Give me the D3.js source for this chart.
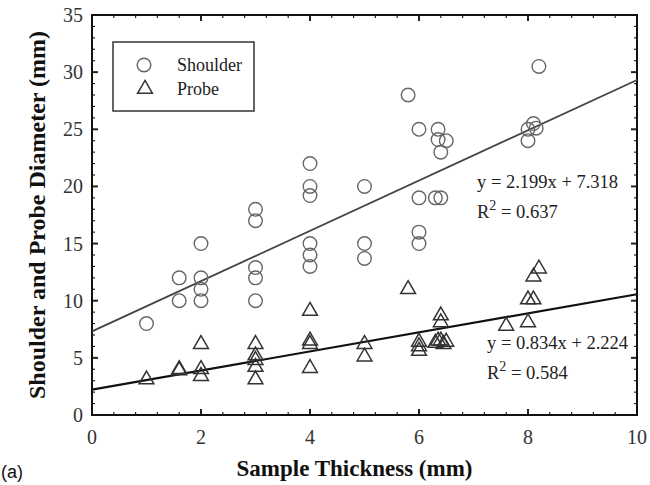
<!DOCTYPE html>
<html>
<head>
<meta charset="utf-8">
<script src="https://cdnjs.cloudflare.com/ajax/libs/d3/7.8.5/d3.min.js"></script>
<style>
  body { margin: 0; background: #fff; }
  svg text { font-family: "Liberation Serif", "Times New Roman", serif; }
</style>
</head>
<body>
<div id="chart"></div>
<script>
// shoulder diameters (thickness mm, diameter mm)
const shoulderX = [1, 1.6, 1.6, 2, 2, 2, 2, 3, 3, 3, 3, 3, 4, 4, 4, 4, 4, 4, 5, 5, 5, 5.8, 6, 6, 6, 6,
  6.35, 6.35, 6.5, 6.4, 6.3, 6.4, 8, 8, 8.1, 8.15, 8.2];
const shoulderY = [8, 12, 10, 15, 12, 11, 10, 18, 17, 12.9, 12, 10, 22, 20, 19.2, 15, 14, 13, 20, 15, 13.7, 28, 25, 19, 16, 15,
  25, 24.1, 24, 23, 19, 19, 25, 24, 25.5, 25.1, 30.5];
// probe diameters
const probeX = [1, 1.6, 1.6, 2, 2, 2, 3, 3, 3, 3, 3, 4, 4, 4, 4, 5, 5, 5.8, 6, 6, 6, 6.3, 6.35, 6.4, 6.4, 6.4, 6.5, 6.45,
  7.6, 8, 8, 8.1, 8.1, 8.2];
const probeY = [3.1, 4.0, 3.9, 6.2, 4.0, 3.4, 6.2, 5.2, 4.8, 4.2, 3.1, 9.1, 6.5, 6.2, 4.1, 6.2, 5.1, 11.0, 6.4, 6.0, 5.6, 6.3, 6.5,
  8.7, 8.1, 6.5, 6.4, 6.2, 7.8, 8.1, 10.1, 10.1, 12.1, 12.8];
// linear fits printed on the chart
const shoulderFit = { slope: 2.199, intercept: 7.318, r2: "0.637" };
const probeFit = { slope: 0.834, intercept: 2.224, r2: "0.584" };
const xTicks = [0, 2, 4, 6, 8, 10];
const yTicks = [0, 5, 10, 15, 20, 25, 30, 35];

const width = 650, height = 485;
const margin = { left: 92, right: 13, top: 15, bottom: 70 };

const svg = d3.select("#chart").append("svg")
  .attr("width", width).attr("height", height);

const x = d3.scaleLinear().domain([0, 10]).range([margin.left, width - margin.right]);
const y = d3.scaleLinear().domain([0, 35]).range([height - margin.bottom, margin.top]);

const x0 = x(0), x1 = x(10), y0 = y(0), y1 = y(35);

// minor + major ticks, all pointing inward, on all four sides
const xMinor = d3.range(0, 10.001, 0.4);
const yMinor = d3.range(0, 35.001, 1);
const ticks = svg.append("g").attr("stroke", "#222");
xMinor.forEach(v => {
  const major = xTicks.includes(+v.toFixed(1));
  const len = major ? 6 : 3;
  ticks.append("line").attr("x1", x(v)).attr("x2", x(v)).attr("y1", y0).attr("y2", y0 - len)
    .attr("stroke-width", major ? 2 : 1.2);
  ticks.append("line").attr("x1", x(v)).attr("x2", x(v)).attr("y1", y1).attr("y2", y1 + len)
    .attr("stroke-width", major ? 2 : 1.2);
});
yMinor.forEach(v => {
  const major = v % 5 === 0;
  const len = major ? 6 : 3;
  ticks.append("line").attr("x1", x0).attr("x2", x0 + len).attr("y1", y(v)).attr("y2", y(v))
    .attr("stroke-width", major ? 2 : 1.2);
  ticks.append("line").attr("x1", x1).attr("x2", x1 - len).attr("y1", y(v)).attr("y2", y(v))
    .attr("stroke-width", major ? 2 : 1.2);
});

// frame
svg.append("rect").attr("x", x0).attr("y", y1).attr("width", x1 - x0).attr("height", y0 - y1)
  .attr("fill", "none").attr("stroke", "#111").attr("stroke-width", 2);

// tick labels
svg.append("g").selectAll("text").data(xTicks).join("text")
  .attr("x", d => x(d)).attr("y", y0 + 29)
  .attr("text-anchor", "middle").attr("font-size", 20).attr("fill", "#333")
  .text(d => d);
svg.append("g").selectAll("text").data(yTicks).join("text")
  .attr("x", x0 - 9).attr("y", d => y(d) + 7)
  .attr("text-anchor", "end").attr("font-size", 20).attr("fill", "#333")
  .text(d => d);

// axis titles
svg.append("text").attr("x", (x0 + x1) / 2 - 10).attr("y", y0 + 61)
  .attr("text-anchor", "middle").attr("font-size", 23).attr("font-weight", "bold")
  .attr("fill", "#111").text("Sample Thickness (mm)");
svg.append("text")
  .attr("transform", `translate(45,${(y0 + y1) / 2}) rotate(-90)`)
  .attr("text-anchor", "middle").attr("font-size", 24).attr("font-weight", "bold")
  .attr("fill", "#111").text("Shoulder and Probe Diameter (mm)");

svg.append("text").attr("x", 1).attr("y", 478)
  .style("font-family", "'Liberation Sans', Arial, sans-serif")
  .attr("font-size", 18).attr("fill", "#111").text("(a)");

// fit lines
const line = d3.line().x(d => x(d[0])).y(d => y(d[1]));
svg.append("path")
  .attr("d", line([[0, shoulderFit.intercept], [10, shoulderFit.intercept + 10 * shoulderFit.slope]]))
  .attr("fill", "none").attr("stroke", "#444").attr("stroke-width", 1.8);
svg.append("path")
  .attr("d", line([[0, probeFit.intercept], [10, probeFit.intercept + 10 * probeFit.slope]]))
  .attr("fill", "none").attr("stroke", "#111").attr("stroke-width", 2.2);

// markers
const triangle = d3.symbol().type(d3.symbolTriangle).size(95);
svg.append("g").selectAll("circle").data(shoulderX.map((v, i) => [v, shoulderY[i]])).join("circle")
  .attr("cx", d => x(d[0])).attr("cy", d => y(d[1])).attr("r", 6.8)
  .attr("fill", "none").attr("stroke", "#666").attr("stroke-width", 1.4);
svg.append("g").selectAll("path").data(probeX.map((v, i) => [v, probeY[i]])).join("path")
  .attr("d", triangle)
  .attr("transform", d => `translate(${x(d[0])},${y(d[1])})`)
  .attr("fill", "none").attr("stroke", "#333").attr("stroke-width", 1.5);

// equation labels
function equation(fit, px, py) {
  const g = svg.append("g").attr("font-size", 18.5).attr("fill", "#222");
  g.append("text").attr("x", px).attr("y", py)
    .text(`y = ${fit.slope}x + ${fit.intercept}`);
  const t = g.append("text").attr("x", px).attr("y", py + 30);
  t.append("tspan").text("R");
  t.append("tspan").attr("font-size", 14).attr("dy", -8).text("2");
  t.append("tspan").attr("dy", 8).text(` = ${fit.r2}`);
}
equation(shoulderFit, 477, 188);
equation(probeFit, 487, 349);

// legend
const lg = svg.append("g");
lg.append("rect").attr("x", 113).attr("y", 42).attr("width", 141).attr("height", 69)
  .attr("fill", "#fff").attr("stroke", "#333").attr("stroke-width", 1.5);
lg.append("circle").attr("cx", 144).attr("cy", 65).attr("r", 6.8)
  .attr("fill", "none").attr("stroke", "#666").attr("stroke-width", 1.4);
lg.append("path").attr("d", triangle).attr("transform", "translate(145,89)")
  .attr("fill", "none").attr("stroke", "#333").attr("stroke-width", 1.5);
lg.append("text").attr("x", 177).attr("y", 71).attr("font-size", 18).attr("fill", "#222").text("Shoulder");
lg.append("text").attr("x", 177).attr("y", 95).attr("font-size", 18).attr("fill", "#222").text("Probe");
</script>
</body>
</html>
